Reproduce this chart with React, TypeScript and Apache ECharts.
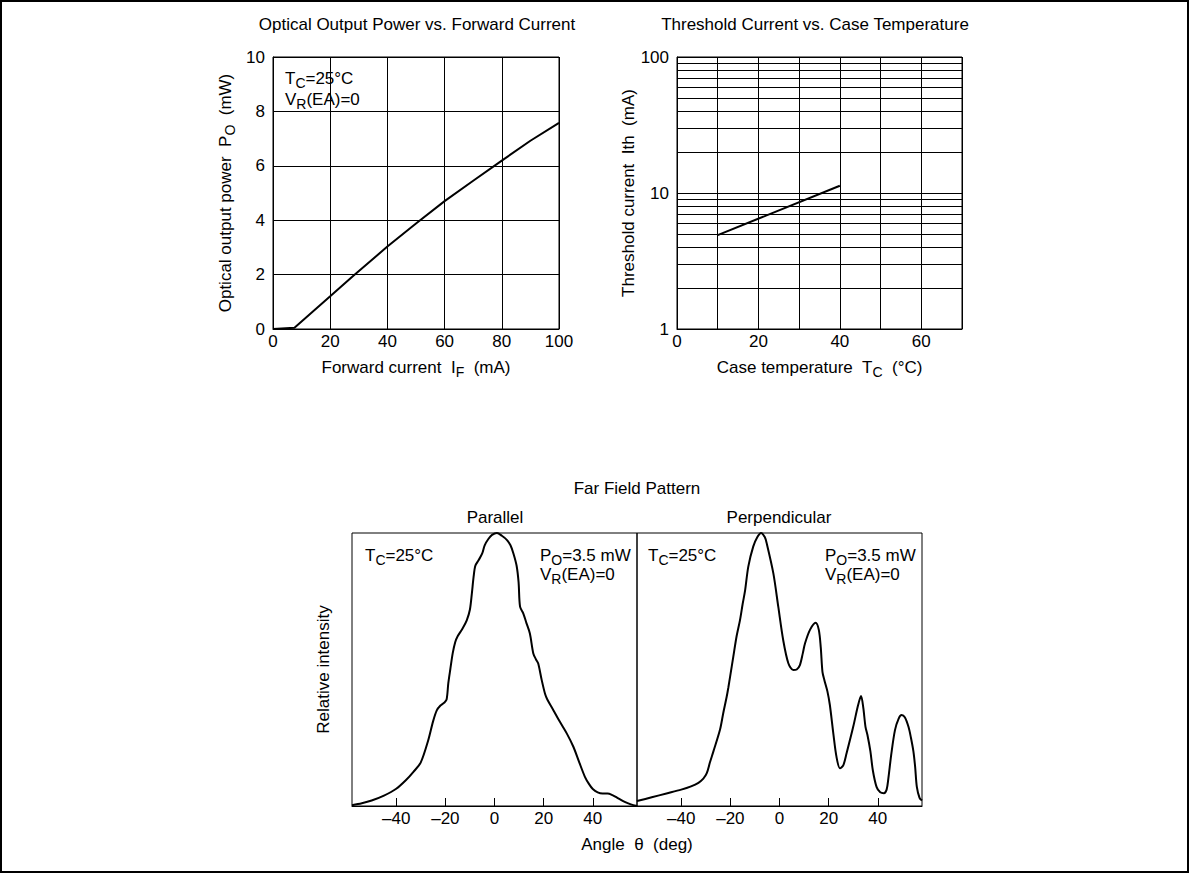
import React, { useEffect, useRef } from "react";
import * as echarts from "echarts";

// ---- Optical output power vs forward current ----
const forwardCurrent = [0, 7.5, 20, 28, 40, 50, 60, 70, 80, 90, 100];
const outputPower = [0, 0.05, 1.2, 1.95, 3.03, 3.88, 4.7, 5.45, 6.19, 6.92, 7.58];
const currentTicks = { min: 0, max: 100, interval: 20 };
const powerTicks = { min: 0, max: 10, interval: 2 };

// ---- Threshold current vs case temperature ----
const caseTemp = [10, 40];
const thresholdCurrent = [4.9, 11.3];
const logMinorGrid = [2, 3, 4, 5, 6, 7, 8, 9, 20, 30, 40, 50, 60, 70, 80, 90];

// ---- Far field pattern ----
const angleTicks = [-40, -20, 0, 20, 40];
const parallelAngle = [
  -58, -54, -50, -45, -40, -36, -33, -30, -27, -25, -23.5, -22, -20.5, -19.5, -18.8, -18, -17,
  -16, -15, -13, -11.3, -10, -9.2, -8.5, -7.8, -6.5, -5, -4, -2.5, -1, 1, 3, 5, 6.5, 7.7, 9,
  9.8, 10.4, 11.7, 13, 14.4, 15.8, 17, 17.8, 19.2, 20.6, 21.5, 23.9, 26.5, 29.4, 32.1, 34.5,
  36.8, 38.5, 40, 42, 44, 46, 48, 50, 53, 55.5, 58,
];
const parallelIntensity = [
  0.003, 0.01, 0.02, 0.038, 0.063, 0.095, 0.125, 0.16, 0.24, 0.31, 0.35, 0.368, 0.378, 0.39,
  0.45, 0.5, 0.56, 0.6, 0.622, 0.65, 0.68, 0.72, 0.78, 0.84, 0.88, 0.9, 0.925, 0.955, 0.978,
  0.993, 1.0, 0.99, 0.975, 0.955, 0.925, 0.88, 0.82, 0.73, 0.706, 0.67, 0.632, 0.559, 0.535,
  0.522, 0.462, 0.41, 0.39, 0.352, 0.31, 0.266, 0.217, 0.16, 0.107, 0.08, 0.062, 0.05, 0.046,
  0.046, 0.04, 0.03, 0.015, 0.006, 0,
];
const perpAngle = [
  -58, -52, -46, -40, -36, -33, -31, -29.6, -28.3, -26.9, -24.2, -22.9, -21.5, -20.8, -20.1,
  -18.8, -17.5, -16.1, -15, -14, -12.7, -10.7, -9, -7.5, -6, -5.2, -2.5, -0.5, 1.5, 3.6, 5.6, 7,
  8.3, 9.5, 10.4, 12.4, 14.7, 16, 16.8, 17.5, 18.3, 19.5, 20.5, 21.9, 23.2, 24.6, 26, 27.3, 30,
  32, 33.2, 34.1, 35, 35.8, 37, 38, 39.5, 41, 42.5, 43.6, 44.3, 45.5, 47, 48.5, 49.7, 51, 52.5,
  53.5, 54.5, 55.2, 55.9, 57, 58,
];
const perpIntensity = [
  0.018, 0.032, 0.046, 0.06, 0.072, 0.085, 0.1, 0.12, 0.16, 0.2, 0.28, 0.34, 0.4, 0.435, 0.474,
  0.547, 0.62, 0.68, 0.74, 0.79, 0.877, 0.95, 0.985, 1.0, 0.985, 0.962, 0.852, 0.73, 0.608, 0.523,
  0.498, 0.5, 0.516, 0.56, 0.596, 0.645, 0.671, 0.645, 0.58, 0.49, 0.46, 0.42, 0.37, 0.266, 0.18,
  0.138, 0.15, 0.193, 0.29, 0.37, 0.403, 0.36, 0.29, 0.26, 0.2, 0.13, 0.07, 0.05, 0.047, 0.06,
  0.1, 0.19, 0.278, 0.32, 0.333, 0.325, 0.29, 0.25, 0.2, 0.144, 0.07, 0.03, 0.02,
];

const FONT = "'Liberation Sans', Arial, Helvetica, sans-serif";
const FS = 17;
const rich = {
  n: { fontSize: FS, fontFamily: FONT, color: "#000" },
  s: { fontSize: 14, fontFamily: FONT, color: "#000", padding: [9, 0, 0, 0] },
};

const zip = (a: number[], b: number[]) => a.map((v, i) => [v, b[i]]);

function text(x: number, y: number, t: string, align = "left", rotation = 0) {
  return {
    type: "text",
    x,
    y,
    rotation,
    silent: true,
    style: {
      text: t,
      rich,
      fontSize: FS,
      fontFamily: FONT,
      fill: "#000",
      align,
      verticalAlign: "middle",
    },
  };
}

export default function App() {
  const ref = useRef<HTMLDivElement>(null);
  useEffect(() => {
    if (!ref.current) return;
    const chart = echarts.init(ref.current, null, { renderer: "svg" });
    const black = { color: "#000", width: 1 };
    const labelStyle = { color: "#000", fontSize: FS, fontFamily: FONT };
    const bottomX = (gi: number) => ({
      gridIndex: gi,
      type: "value",
      min: -58,
      max: 58,
      axisLine: { show: true, onZero: false, lineStyle: black },
      axisTick: { show: true, inside: true, length: 8, lineStyle: black, customValues: angleTicks },
      axisLabel: {
        ...labelStyle,
        margin: 4,
        customValues: angleTicks,
        formatter: (v: number) => String(v).replace("-", "\u2013"),
      },
      splitLine: { show: false },
    });
    const bottomY = (gi: number, name: string) => ({
      gridIndex: gi,
      type: "value",
      min: 0,
      max: 1,
      axisLine: { show: false, onZero: false },
      axisTick: { show: false },
      axisLabel: { show: false },
      splitLine: { show: false },
      name,
      nameLocation: "middle",
      nameGap: 20,
      nameTextStyle: { ...labelStyle },
    });
    const option: any = {
      animation: false,
      backgroundColor: "#fff",
      textStyle: { fontFamily: FONT },
      grid: [
        { left: 273, top: 57, width: 286, height: 272, show: true, borderColor: "#000", borderWidth: 1 },
        { left: 677, top: 57, width: 285, height: 272, show: true, borderColor: "#000", borderWidth: 1 },
        { left: 352, top: 533, width: 285, height: 273, show: true, borderColor: "#000", borderWidth: 1 },
        { left: 637, top: 533, width: 285, height: 273, show: true, borderColor: "#000", borderWidth: 1 },
      ],
      xAxis: [
        {
          gridIndex: 0,
          type: "value",
          ...currentTicks,
          axisLine: { show: true, onZero: false, lineStyle: black },
          axisTick: { show: false },
          axisLabel: { ...labelStyle, margin: 4 },
          splitLine: { show: true, lineStyle: black },
          name: "{n|Forward current  I}{s|F}{n|  (mA)}",
          nameLocation: "middle",
          nameGap: 27,
          nameTextStyle: { rich },
        },
        {
          gridIndex: 1,
          type: "value",
          min: 0,
          max: 70,
          interval: 10,
          axisLine: { show: true, onZero: false, lineStyle: black },
          axisTick: { show: false },
          axisLabel: {
            ...labelStyle,
            margin: 4,
            formatter: (v: number) => (v % 20 === 0 ? String(v) : ""),
          },
          splitLine: { show: true, lineStyle: black },
          name: "{n|Case temperature  T}{s|C}{n|  (°C)}",
          nameLocation: "middle",
          nameGap: 27,
          nameTextStyle: { rich },
        },
        bottomX(2),
        bottomX(3),
      ],
      yAxis: [
        {
          gridIndex: 0,
          type: "value",
          ...powerTicks,
          axisLine: { show: true, onZero: false, lineStyle: black },
          axisTick: { show: false },
          axisLabel: { ...labelStyle, margin: 8 },
          splitLine: { show: true, lineStyle: black },
          name: "{n|Optical output power  P}{s|O}{n|  (mW)}",
          nameLocation: "middle",
          nameGap: 36,
          nameTextStyle: { rich },
        },
        {
          gridIndex: 1,
          type: "log",
          logBase: 10,
          min: 1,
          max: 100,
          axisLine: { show: true, onZero: false, lineStyle: black },
          axisTick: { show: false },
          axisLabel: { ...labelStyle, margin: 8 },
          splitLine: { show: true, lineStyle: black },
          name: "{n|Threshold current  Ith  (mA)}",
          nameLocation: "middle",
          nameGap: 36,
          nameTextStyle: { rich },
        },
        bottomY(2, "Relative intensity"),
        { ...bottomY(3, ""), name: "" },
      ],
      series: [
        {
          type: "line",
          xAxisIndex: 0,
          yAxisIndex: 0,
          data: zip(forwardCurrent, outputPower),
          symbol: "none",
          lineStyle: { color: "#000", width: 2 },
        },
        {
          type: "line",
          xAxisIndex: 1,
          yAxisIndex: 1,
          data: zip(caseTemp, thresholdCurrent),
          symbol: "none",
          lineStyle: { color: "#000", width: 2 },
          markLine: {
            silent: true,
            symbol: "none",
            label: { show: false },
            lineStyle: { color: "#000", width: 1, type: "solid" },
            data: logMinorGrid.map((v) => ({ yAxis: v })),
          },
        },
        {
          type: "line",
          xAxisIndex: 2,
          yAxisIndex: 2,
          data: zip(parallelAngle, parallelIntensity),
          symbol: "none",
          smooth: 0.3,
          lineStyle: { color: "#000", width: 2 },
        },
        {
          type: "line",
          xAxisIndex: 3,
          yAxisIndex: 3,
          data: zip(perpAngle, perpIntensity),
          symbol: "none",
          smooth: 0.3,
          lineStyle: { color: "#000", width: 2 },
        },
      ],
      graphic: [
        {
          type: "rect",
          silent: true,
          shape: { x: 1, y: 1, width: 1187, height: 871 },
          style: { fill: "none", stroke: "#000", lineWidth: 2 },
        },
        text(417, 24, "{n|Optical Output Power vs. Forward Current}", "center"),
        text(815, 24, "{n|Threshold Current vs. Case Temperature}", "center"),
        text(285, 78, "{n|T}{s|C}{n|=25°C}"),
        text(285, 99, "{n|V}{s|R}{n|(EA)=0}"),
        text(637, 488, "{n|Far Field Pattern}", "center"),
        text(495, 517, "{n|Parallel}", "center"),
        text(779, 517, "{n|Perpendicular}", "center"),
        text(365, 555, "{n|T}{s|C}{n|=25°C}"),
        text(540, 555, "{n|P}{s|O}{n|=3.5 mW}"),
        text(540, 574, "{n|V}{s|R}{n|(EA)=0}"),
        text(648, 555, "{n|T}{s|C}{n|=25°C}"),
        text(825, 555, "{n|P}{s|O}{n|=3.5 mW}"),
        text(825, 574, "{n|V}{s|R}{n|(EA)=0}"),
        text(637, 844, "{n|Angle  θ  (deg)}", "center"),
      ],
    };
    chart.setOption(option);
    return () => chart.dispose();
  }, []);
  return (
    <div
      ref={ref}
      style={{ position: "fixed", left: 0, top: 0, width: 1189, height: 873, background: "#fff" }}
    />
  );
}
